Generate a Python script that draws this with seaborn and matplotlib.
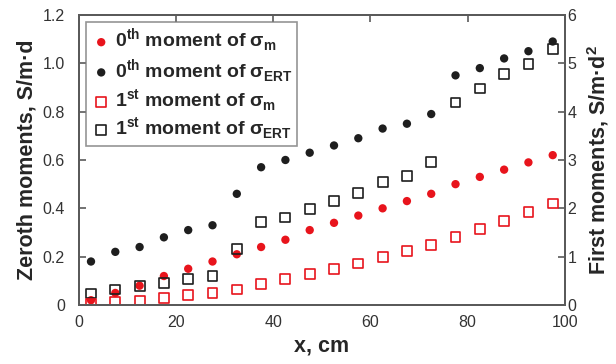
import matplotlib
matplotlib.use('Agg')
import matplotlib.pyplot as plt
import seaborn as sns
import numpy as np

# distance along the column, cm
x_cm = [2.5, 7.5, 12.5, 17.5, 22.5, 27.5, 32.5, 37.5, 42.5, 47.5,
        52.5, 57.5, 62.5, 67.5, 72.5, 77.5, 82.5, 87.5, 92.5, 97.5]

# zeroth moments, S/m·d (left axis)
zeroth_m = [0.02, 0.05, 0.08, 0.12, 0.15, 0.18, 0.21, 0.24, 0.27, 0.31,
            0.34, 0.37, 0.40, 0.43, 0.46, 0.50, 0.53, 0.56, 0.59, 0.62]
zeroth_ert = [0.18, 0.22, 0.24, 0.28, 0.31, 0.33, 0.46, 0.57, 0.60, 0.63,
              0.66, 0.69, 0.73, 0.75, 0.79, 0.95, 0.98, 1.02, 1.05, 1.09]

# first moments, S/m·d2 (right axis)
first_m = [0.02, 0.07, 0.09, 0.14, 0.21, 0.25, 0.32, 0.43, 0.53, 0.64,
           0.74, 0.86, 0.99, 1.12, 1.24, 1.40, 1.57, 1.74, 1.92, 2.10]
first_ert = [0.24, 0.32, 0.39, 0.45, 0.53, 0.60, 1.16, 1.71, 1.81, 1.98,
             2.15, 2.31, 2.54, 2.67, 2.96, 4.19, 4.48, 4.78, 4.99, 5.30]

left_ticks = [0, 0.2, 0.4, 0.6, 0.8, 1.0, 1.2]
left_labels = ['0', '0.2', '0.4', '0.6', '0.8', '1.0', '1.2']
right_ticks = [0, 1, 2, 3, 4, 5, 6]
x_ticks = [0, 20, 40, 60, 80, 100]

RED = '#e8141c'
BLACK = '#1e1e1e'
SPINE = '#5a5a5a'

sns.set_style('white')
plt.rcParams['font.family'] = ['Liberation Sans', 'DejaVu Sans']
plt.rcParams['mathtext.fontset'] = 'custom'
plt.rcParams['mathtext.rm'] = 'Liberation Sans:bold'
plt.rcParams['mathtext.bf'] = 'Liberation Sans:bold'

fig, ax = plt.subplots(figsize=(6.16, 3.64), dpi=100)
fig.subplots_adjust(left=0.128, right=0.917, bottom=0.162, top=0.959)
ax2 = ax.twinx()

sns.scatterplot(x=x_cm, y=zeroth_ert, ax=ax, s=36, color=BLACK, edgecolor='none',
                label='0$^{\\mathrm{th}}$ moment of σ$_{\\mathrm{ERT}}$')
sns.scatterplot(x=x_cm, y=zeroth_m, ax=ax, s=36, color=RED, edgecolor='none',
                label='0$^{\\mathrm{th}}$ moment of σ$_{\\mathrm{m}}$')
sns.scatterplot(x=x_cm, y=first_ert, ax=ax2, s=50, marker='s', facecolor='none',
                edgecolor=BLACK, linewidth=1.2,
                label='1$^{\\mathrm{st}}$ moment of σ$_{\\mathrm{ERT}}$')
sns.scatterplot(x=x_cm, y=first_m, ax=ax2, s=50, marker='s', facecolor='none',
                edgecolor=RED, linewidth=1.2,
                label='1$^{\\mathrm{st}}$ moment of σ$_{\\mathrm{m}}$')

ax.set_xlim(0, 100)
ax.set_ylim(0, 1.2)
ax2.set_ylim(0, 6)
ax.set_xticks(x_ticks)
ax.set_yticks(left_ticks)
ax.set_yticklabels(left_labels)
ax2.set_yticks(right_ticks)

for a in (ax, ax2):
    for sp in a.spines.values():
        sp.set_color(SPINE)
        sp.set_linewidth(1.4)
    a.tick_params(direction='in', length=5, width=1.2, color=SPINE,
                  labelsize=11.5, labelcolor='#333333')
ax.tick_params(axis='x', top=True, pad=7)
ax.tick_params(axis='y', left=True, right=False, pad=10)
ax2.tick_params(axis='y', right=True, pad=2)

ax.set_xlabel('x, cm', fontsize=15.5, fontweight='bold', labelpad=4)
ax.set_ylabel('Zeroth moments, S/m·d', fontsize=15.5, fontweight='bold', labelpad=4)
ax2.set_ylabel('First moments, S/m·d$^{\\mathrm{2}}$', fontsize=15.5,
               fontweight='bold', labelpad=6)

# combined legend in the order of the original
h1, l1 = ax.get_legend_handles_labels()
h2, l2 = ax2.get_legend_handles_labels()
if ax.get_legend() is not None:
    ax.get_legend().remove()
handles = [h1[1], h1[0], h2[1], h2[0]]
labels = [l1[1], l1[0], l2[1], l2[0]]
leg = ax2.legend(handles, labels, loc='upper left', frameon=True, fancybox=False,
                 prop={'weight': 'bold', 'size': 14}, handletextpad=0.15,
                 borderpad=0.25, labelspacing=0.12, handlelength=1.1,
                 borderaxespad=0.35)
leg.get_frame().set_edgecolor('#7a7a7a')
leg.get_frame().set_linewidth(1.2)

fig.savefig('out.png', dpi=100)
